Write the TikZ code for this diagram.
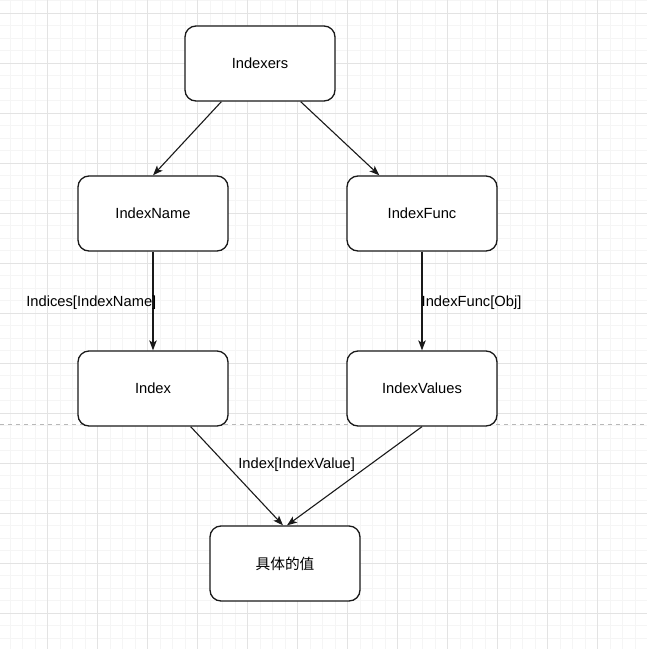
\documentclass[tikz,border=0pt]{standalone}
\usepackage{fontspec}
\setmainfont{Liberation Sans}
\newfontfamily\cjk{Noto Sans CJK SC}
\usetikzlibrary{arrows.meta}

\begin{document}
\begin{tikzpicture}[x=1pt, y=-1pt,
                    box/.style={draw=black!90, line width=1.3pt, rounded corners=11pt, fill=white,
                                minimum width=150pt, minimum height=75pt, inner sep=0pt,
                                font=\fontsize{14.7}{17}\selectfont},
                    lbl/.style={inner sep=0pt, font=\fontsize{14.7}{17}\selectfont},
                    link/.style={draw=black!90, line width=1.1pt,
                                 -{Stealth[length=10pt, width=7.5pt, inset=2.5pt]}}
                    ]

                    \useasboundingbox (0,0) rectangle (647,649);

                    % grid
                    \foreach \k in {0,...,51}{
                        \draw[black!4, line width=0.8pt] (10.2+12.5*\k,0) -- (10.2+12.5*\k,649);
                        \draw[black!4, line width=0.8pt] (0,0.8+12.5*\k) -- (647,0.8+12.5*\k);
                    }
                    \foreach \k in {0,...,12}{
                        \draw[black!11, line width=0.8pt] (47.7+50*\k,0) -- (47.7+50*\k,649);
                        \draw[black!11, line width=0.8pt] (0,13.3+50*\k) -- (647,13.3+50*\k);
                    }
                    \draw[black!28, line width=1pt, dash pattern=on 4pt off 4pt] (0,424.3) -- (647,424.3);

                    \node[box] (idx) at (260,63.5) {Indexers};
                    \node[box] (name) at (153,213.5) {IndexName};
                    \node[box] (func) at (422,213.5) {IndexFunc};
                    \node[box] (index) at (153,388.5) {Index};
                    \node[box] (vals) at (422,388.5) {IndexValues};
                    \node[box] (val) at (285,563.5) {\cjk 具体的值};

                    \coordinate (idxL) at ([xshift=37pt]idx.south west);
                    \coordinate (idxR) at ([xshift=-35pt]idx.south east);
                    \coordinate (funcIn) at ([xshift=33pt]func.north west);
                    \coordinate (indexOut) at ([xshift=-38pt]index.south east);
                    \coordinate (valL) at ([xshift=-2pt]val.north);
                    \coordinate (valR) at ([xshift=2pt]val.north);

                    \foreach \i/\j in {idxL/name.north, idxR/funcIn, name.south/index.north,
                                       func.south/vals.north, indexOut/valL, vals.south/valR}{
                        \draw (\i) edge[link] (\j);
                    }

                    \node[lbl, anchor=base east] (lname) at (156.5,306) {Indices[IndexName]};
                    \node[lbl, anchor=base west] (lfunc) at (421.5,306.5) {IndexFunc[Obj]};
                    \node[lbl, anchor=base] (lval) at (296.7,468.5) {Index[IndexValue]};

                \end{tikzpicture}
\end{document}
